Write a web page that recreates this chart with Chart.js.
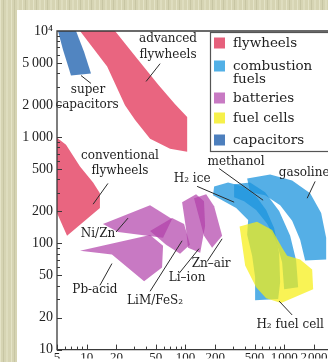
<!DOCTYPE html>
<html>
<head>
<meta charset="utf-8">
<script src="https://cdn.jsdelivr.net/npm/chart.js@4.4.1/dist/chart.umd.min.js"></script>
<style>
  html, body { margin: 0; padding: 0; }
  body {
    width: 328px; height: 362px; overflow: hidden; position: relative;
    background-color: #d6d4b3;
    background-image:
      repeating-linear-gradient(90deg, rgba(255,255,235,0.35) 0 1px, rgba(0,0,0,0) 1px 3px, rgba(110,110,70,0.14) 3px 4px, rgba(0,0,0,0) 4px 6px, rgba(255,255,235,0.2) 6px 8px, rgba(0,0,0,0) 8px 11px);
  }
  #wrap { position: absolute; left: 17px; top: 10px; width: 400px; height: 352px; background: #fff; }
</style>
</head>
<body>
<div id="wrap"><canvas id="c"></canvas></div>
<script>
// Ragone chart: power per unit mass (W/kg) against energy per unit mass (Wh/kg)

const xTicks = [5, 10, 20, 50, 100, 200, 500, 1000, 2000];
const yTicks = [10, 20, 50, 100, 200, 500, 1000, 2000, 5000, 10000];

// region outlines, [energy Wh/kg, power W/kg]
const superCapacitors = [[5.12,10000],[7.79,10000],[9.39,6380],[11.05,3980],[6.93,3808],[5.75,6650]];
const advancedFlywheels = [[8.55,10000],[19.35,10000],[33.1,5368],[52.8,3140],[78.5,2044],[104,1547],[104,730],[69.8,779],[43.8,965],[30.9,1450],[24.4,2000],[16.1,4620]];
const conventionalFlywheels = [[5,986],[6.17,848],[8.55,529],[11.6,375],[13.6,297],[13.6,215],[6.32,118],[5,193]];

const niZn = [[14.6,152.5],[43.8,229],[73.1,170],[59.3,113],[20.8,128]];
const pbAcid = [[8.55,85.4],[43.8,120],[59.3,95.1],[57.9,59.3],[38.1,43.9],[18.0,78.4]];
const limFeS2 = [[43.8,131],[73.1,173],[96.8,152.5],[111,97.2],[88.1,80.1],[63.6,97.2]];
const liIon = [[92.4,244],[128,290],[154,250],[158,146],[141,81.8],[106,91.1],[101,140]];
const znAir = [[122,266],[162,290],[195,224],[235,118],[186,91.1],[154,118]];

const h2Ice = [[195,344],[270,375],[383,344],[519,278],[656,206],[790,140],[888,81.8],[909,43.0],[868,29.9],
               [507,29.2],[507,47.9],[473,76.7],[421,120.4],[431,166],[326,215],[235,255],[190,284]];
const methanol = [[311,360],[451,375],[640,303],[888,202],[1148,118],[1320,69],[1383,38.6],
                  [998,37.0],[952,66.0],[828,106],[671,153],[519,206],[392,250],[311,272]];
const gasoline = [[421,409],[720,446],[1202,392],[1830,297],[2365,193],[2658,113],[2658,70.4],
                  [1628,69.0],[1449,108],[1202,163],[909,229],[640,284],[451,303]];
const h2FuelCell = [[353,144],[530,160],[754,134],[952,91.1],[1070,76.7],[1449,70.4],[1918,56.8],[1963,37.0],[930,27.4],[656,30.5],[519,38.6],[402,61.9]];

// leader lines from each caption to its region
const leaders = [
  [[8.75,3808],[11.05,3208]],
  [[55.3,4925],[39.9,3348]],
  [[11.6,234],[16.4,367]],
  [[19.8,128],[26.2,173]],
  [[13.6,40.3],[18.0,64.6]],
  [[43.8,35.4],[92.4,105.9]],
  [[86.1,52.2],[137,89.2]],
  [[165.5,67.5],[235,110.5]],
  [[131,344.5],[311,244.4]],
  [[219,507],[611,255]],
  [[2056,383.5],[1706,266.3]],
  [[888,28.6],[1202,21.2]]
];

// captions: text, energy, power
const notes = [
  ['advanced', 66.6, 8424], ['flywheels', 66.6, 5975],
  ['super', 10.3, 2820], ['capacitors', 10.07, 2001],
  ['conventional', 21.7, 670], ['flywheels', 21.7, 486],
  ['methanol', 325, 589], ['H\u2082 ice', 116.7, 409], ['gasoline', 1591, 465],
  ['Ni/Zn', 13.0, 123], ['Pb-acid', 12.1, 36.2], ['LiM/FeS\u2082', 49.2, 28.6],
  ['Li\u2013ion', 103.8, 46.9], ['Zn\u2013air', 181.7, 64.6], ['H\u2082 fuel cell', 1148, 17.1]
];

const groups = ['flywheels', 'combustion\nfuels', 'batteries', 'fuel cells', 'capacitors'];
const groupColors = ['#e6607c', '#52b0e6', '#c87ac3', '#f6f04a', '#4d7fbd'];

const fills = {
  flywheels: 'rgba(228,62,96,0.8)',
  combustion: 'rgba(28,148,222,0.75)',
  batteries: 'rgba(176,64,169,0.7)',
  fuelcells: 'rgba(246,238,20,0.72)',
  capacitors: 'rgba(50,112,182,0.85)'
};

const SERIF = '"DejaVu Serif", "Liberation Serif", serif';
const TICK_SERIF = '"Liberation Serif", "DejaVu Serif", serif';

function region(points, color, order) {
  return {
    data: points.map(([x, y]) => ({ x, y })),
    showLine: true, fill: 'shape', backgroundColor: color,
    borderWidth: 0, pointRadius: 0, tension: 0, order
  };
}

const datasets = [
  region(superCapacitors, fills.capacitors, 9),
  region(advancedFlywheels, fills.flywheels, 9),
  region(conventionalFlywheels, fills.flywheels, 9),
  region(niZn, fills.batteries, 8),
  region(pbAcid, fills.batteries, 8),
  region(limFeS2, fills.batteries, 8),
  region(liIon, fills.batteries, 8),
  region(znAir, fills.batteries, 8),
  region(gasoline, fills.combustion, 7),
  region(methanol, fills.combustion, 7),
  region(h2Ice, fills.combustion, 7),
  region(h2FuelCell, fills.fuelcells, 6),
  ...leaders.map(seg => ({
    data: seg.map(([x, y]) => ({ x, y })),
    showLine: true, fill: false, borderColor: '#2b2b2b', borderWidth: 1,
    pointRadius: 0, order: 1
  }))
];

function fmt(v, gap) {
  if (v >= 10000) return '10\u2074';
  if (v >= 1000) return Math.floor(v / 1000) + gap + String(v % 1000).padStart(3, '0');
  return String(v);
}

const furniture = {
  id: 'furniture',
  afterDatasetsDraw(chart) {
    const { ctx, chartArea: a, scales: { x, y } } = chart;
    ctx.save();
    // captions
    ctx.fillStyle = '#1e1e1e';
    ctx.font = '12px ' + SERIF;
    ctx.textAlign = 'center';
    ctx.textBaseline = 'middle';
    notes.forEach(([t, vx, vy]) => ctx.fillText(t, x.getPixelForValue(vx), y.getPixelForValue(vy)));

    // frame
    ctx.strokeStyle = '#3a3a3a';
    ctx.lineWidth = 1.3;
    ctx.beginPath();
    ctx.moveTo(a.right + 10, a.top);
    ctx.lineTo(a.left, a.top);
    ctx.lineTo(a.left, a.bottom);
    ctx.lineTo(a.right + 10, a.bottom);
    ctx.stroke();

    // inward tick marks
    ctx.lineWidth = 1;
    ctx.beginPath();
    for (let d = 1; d <= 1000; d *= 10) {
      for (let m = 1; m < 10; m++) {
        const v = m * d;
        if (v >= 10 && v <= 10000) {
          const py = Math.round(y.getPixelForValue(v)) + 0.5;
          const len = yTicks.includes(v) ? 5 : 3;
          ctx.moveTo(a.left, py); ctx.lineTo(a.left + len, py);
        }
        if (v >= 5 && v <= 10000) {
          const px = Math.round(x.getPixelForValue(v)) + 0.5;
          const len = xTicks.includes(v) ? 5 : 3;
          ctx.moveTo(px, a.bottom); ctx.lineTo(px, a.bottom - len);
        }
      }
    }
    ctx.stroke();

    // legend box
    const bx = a.left + 153, by = a.top + 1, bh = 119;
    ctx.fillStyle = '#fff';
    ctx.fillRect(bx, by, 200, bh);
    ctx.strokeStyle = '#555';
    ctx.lineWidth = 1.2;
    ctx.strokeRect(bx + 0.5, by + 0.5, 200, bh);
    const rows = [12, 35, 67, 87, 109];
    ctx.font = '13.5px ' + SERIF;
    ctx.textAlign = 'left';
    groups.forEach((g, i) => {
      const cy = a.top + rows[i];
      ctx.fillStyle = groupColors[i];
      ctx.fillRect(bx + 4, cy - 5.5, 11, 11);
      ctx.fillStyle = '#1e1e1e';
      g.split('\n').forEach((line, k) => ctx.fillText(line, bx + 23, cy + k * 13));
    });
    ctx.restore();
  }
};

new Chart(document.getElementById('c'), {
  type: 'scatter',
  data: { datasets },
  options: {
    responsive: true, maintainAspectRatio: false, animation: false,
    layout: { padding: { top: 21, right: 34, left: 0, bottom: 0 } },
    plugins: { legend: { display: false }, tooltip: { enabled: false } },
    scales: {
      x: {
        type: 'logarithmic', min: 5, max: 10000,
        afterBuildTicks: s => { s.ticks = xTicks.map(v => ({ value: v })); },
        afterFit: s => { s.height = 9; },
        ticks: { callback: v => fmt(v, '\u200A'), font: { family: TICK_SERIF, size: 13 }, color: '#222', padding: 0, autoSkip: false, maxRotation: 0, minRotation: 0 },
        grid: { display: false, drawTicks: false },
        border: { display: false }
      },
      y: {
        type: 'logarithmic', min: 10, max: 10000,
        afterBuildTicks: s => { s.ticks = yTicks.map(v => ({ value: v })); },
        afterFit: s => { s.width = 40; },
        ticks: { callback: v => fmt(v, '\u2009'), font: { family: TICK_SERIF, size: 14 }, color: '#222', padding: 4, autoSkip: false },
        grid: { display: false, drawTicks: false },
        border: { display: false }
      }
    }
  },
  plugins: [furniture]
});
</script>
</body>
</html>
